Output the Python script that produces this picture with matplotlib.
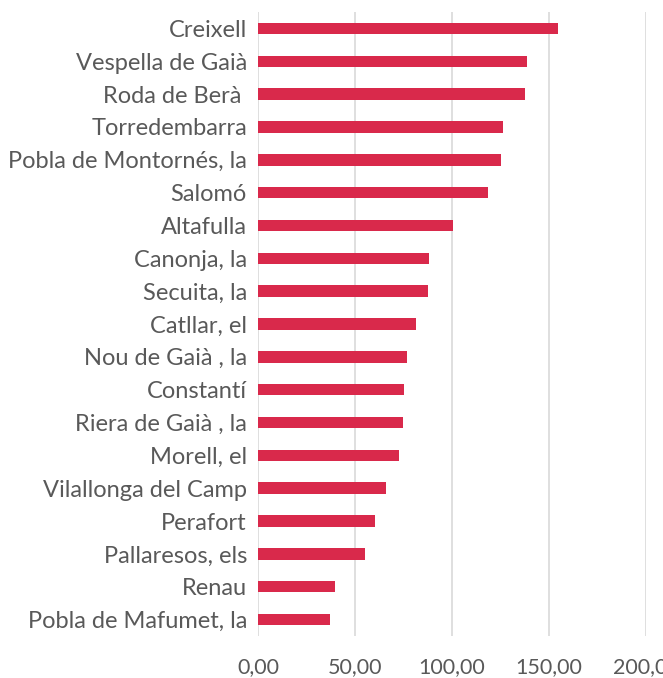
import matplotlib.pyplot as plt

BAR_COLOR = "#d9294b"
TEXT_COLOR = "#595959"
GRID_COLOR = "#d9d9d9"

municipalities = [
    "Creixell", "Vespella de Gaià", "Roda de Berà ", "Torredembarra",
    "Pobla de Montornés, la", "Salomó", "Altafulla", "Canonja, la",
    "Secuita, la", "Catllar, el", "Nou de Gaià , la", "Constantí",
    "Riera de Gaià , la", "Morell, el", "Vilallonga del Camp", "Perafort",
    "Pallaresos, els", "Renau", "Pobla de Mafumet, la",
]
values = [
    154.6, 138.7, 137.3, 126.0, 125.3, 118.3, 100.6, 87.9, 87.4, 81.5,
    76.9, 75.2, 74.7, 72.8, 65.7, 60.2, 54.9, 39.5, 37.1,
]
x_ticks = [0, 50, 100, 150, 200]
x_tick_labels = ["0,00", "50,00", "100,00", "150,00", "200,00"]

plt.rcParams["font.family"] = ["Lato", "DejaVu Sans"]

fig = plt.figure(figsize=(6.63, 6.78), dpi=100)
ax = fig.add_axes([258 / 663, 1 - 636 / 678, (646.3 - 258) / 663, 624 / 678])

pos = list(range(len(municipalities)))
ax.barh(pos, values, height=0.35, color=BAR_COLOR, zorder=3)

ax.set_ylim(len(municipalities) - 0.5, -0.5)
ax.set_xlim(0, 200)
ax.set_yticks(pos)
ax.set_yticklabels(municipalities)
ax.set_xticks(x_ticks)
ax.set_xticklabels(x_tick_labels)

ax.grid(axis="x", color=GRID_COLOR, linewidth=1.2, zorder=0)
for s in ax.spines.values():
    s.set_visible(False)
ax.tick_params(axis="y", length=0, pad=8, labelsize=17, labelcolor=TEXT_COLOR)
ax.tick_params(axis="x", length=0, pad=15, labelsize=15.5, labelcolor=TEXT_COLOR)

fig.savefig("out.png", dpi=100, facecolor="white")
